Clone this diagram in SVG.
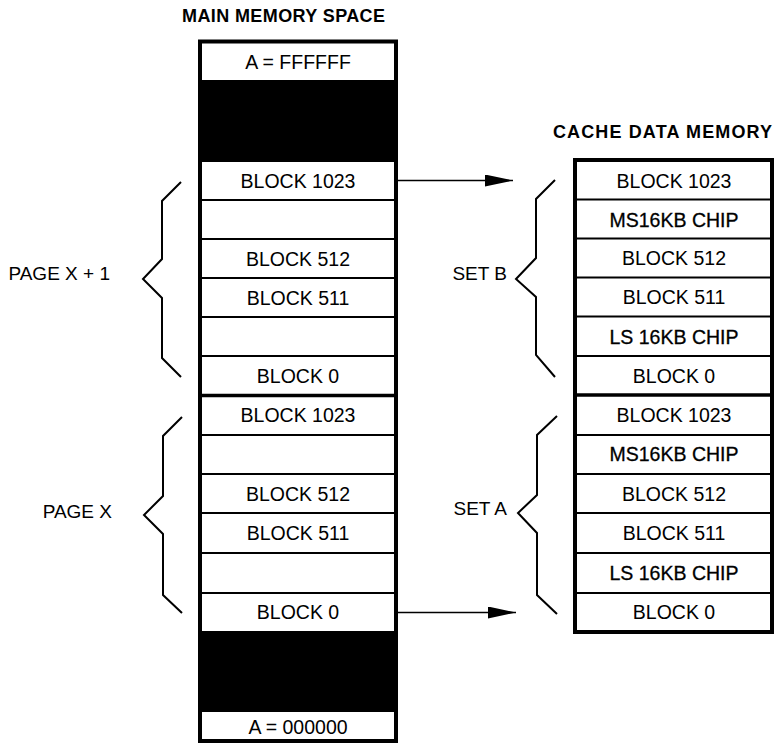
<svg xmlns="http://www.w3.org/2000/svg" width="775" height="753" viewBox="0 0 775 753">
<defs>
<style>
text{font-family:"Liberation Sans",Arial,sans-serif;fill:#000}
.t{font-size:19.5px;text-anchor:middle}
.chip{stroke:#000;stroke-width:0.3}
.title{font-size:18px;font-weight:bold}
.lbl{font-size:19px;text-anchor:end}
.frame{fill:#fff;stroke:#000;stroke-width:4}
.sep{stroke:#000;stroke-width:1.8}
.thick{stroke:#000;stroke-width:3.5}
.brace{fill:none;stroke:#000;stroke-width:2;stroke-linejoin:miter}
.conn{stroke:#000;stroke-width:1.6;fill:none}
</style>
<marker id="ah" markerUnits="userSpaceOnUse" markerWidth="30" markerHeight="14" refX="28" refY="6" orient="auto">
<path d="M0,0 L28,6 L0,12 Z" fill="#000"/>
</marker>
</defs>
<rect width="775" height="753" fill="#fff"/>

<text class="title" x="182" y="21.5" textLength="203" lengthAdjust="spacing">MAIN MEMORY SPACE</text>
<text class="title" x="553" y="137.5" textLength="219" lengthAdjust="spacing">CACHE DATA MEMORY</text>

<g id="main-memory">
<rect class="frame" x="200" y="41.5" width="196" height="699.5"/>
<rect x="200" y="80" width="196" height="82" fill="#000"/>
<rect x="200" y="631" width="196" height="81" fill="#000"/>
<g class="sep">
<line x1="200" y1="200" x2="396" y2="200"/>
<line x1="200" y1="239" x2="396" y2="239"/>
<line x1="200" y1="278" x2="396" y2="278"/>
<line x1="200" y1="317" x2="396" y2="317"/>
<line x1="200" y1="356" x2="396" y2="356"/>
<line x1="200" y1="435" x2="396" y2="435"/>
<line x1="200" y1="474" x2="396" y2="474"/>
<line x1="200" y1="513" x2="396" y2="513"/>
<line x1="200" y1="553" x2="396" y2="553"/>
<line x1="200" y1="593" x2="396" y2="593"/>
</g>
<line class="thick" x1="200" y1="395.5" x2="396" y2="395.5"/>
<text class="t" x="298" y="68.5">A = FFFFFF</text>
<text class="t" x="298" y="188">BLOCK 1023</text>
<text class="t" x="298" y="265.5">BLOCK 512</text>
<text class="t" x="298" y="304.5">BLOCK 511</text>
<text class="t" x="298" y="382.5">BLOCK 0</text>
<text class="t" x="298" y="422">BLOCK 1023</text>
<text class="t" x="298" y="500.5">BLOCK 512</text>
<text class="t" x="298" y="540">BLOCK 511</text>
<text class="t" x="298" y="619">BLOCK 0</text>
<text class="t" x="298" y="734">A = 000000</text>
</g>

<g id="cache-memory">
<rect class="frame" x="575" y="160" width="197" height="472"/>
<g class="sep">
<line x1="575" y1="199.5" x2="772" y2="199.5"/>
<line x1="575" y1="238.5" x2="772" y2="238.5"/>
<line x1="575" y1="277.5" x2="772" y2="277.5"/>
<line x1="575" y1="316.5" x2="772" y2="316.5"/>
<line x1="575" y1="356" x2="772" y2="356"/>
<line x1="575" y1="435" x2="772" y2="435"/>
<line x1="575" y1="474" x2="772" y2="474"/>
<line x1="575" y1="513" x2="772" y2="513"/>
<line x1="575" y1="553" x2="772" y2="553"/>
<line x1="575" y1="593" x2="772" y2="593"/>
</g>
<line class="thick" x1="575" y1="395" x2="772" y2="395"/>
<text class="t" x="674" y="188">BLOCK 1023</text>
<text class="t chip" x="674" y="226.5">MS16KB CHIP</text>
<text class="t" x="674" y="265">BLOCK 512</text>
<text class="t" x="674" y="304">BLOCK 511</text>
<text class="t chip" x="674" y="343.5">LS 16KB CHIP</text>
<text class="t" x="674" y="382.5">BLOCK 0</text>
<text class="t" x="674" y="422">BLOCK 1023</text>
<text class="t chip" x="674" y="461">MS16KB CHIP</text>
<text class="t" x="674" y="500.5">BLOCK 512</text>
<text class="t" x="674" y="540">BLOCK 511</text>
<text class="t chip" x="674" y="580">LS 16KB CHIP</text>
<text class="t" x="674" y="619">BLOCK 0</text>
</g>

<g id="page-x-plus-1">
<polyline class="brace" points="181,182 162,201 162,259 143,279 162,298 162,358 181,377"/>
<text class="lbl" x="110" y="280">PAGE X + 1</text>
</g>
<g id="page-x">
<polyline class="brace" points="182,417 163,436 163,496 144,515 163,534 163,595 182,613"/>
<text class="lbl" x="112" y="517.5">PAGE X</text>
</g>
<g id="set-b">
<polyline class="brace" points="555,180 536,199 536,258 516,279 536,297 536,355 555,377"/>
<text class="lbl" x="507" y="280">SET B</text>
</g>
<g id="set-a">
<polyline class="brace" points="557,416 537,435 537,495 518,513 537,533 537,595 557,614"/>
<text class="lbl" x="507" y="515">SET A</text>
</g>

<g id="connectors">
<line class="conn" x1="398" y1="180.5" x2="513" y2="180.5" marker-end="url(#ah)"/>
<line class="conn" x1="398" y1="612.5" x2="516" y2="612.5" marker-end="url(#ah)"/>
</g>
</svg>
